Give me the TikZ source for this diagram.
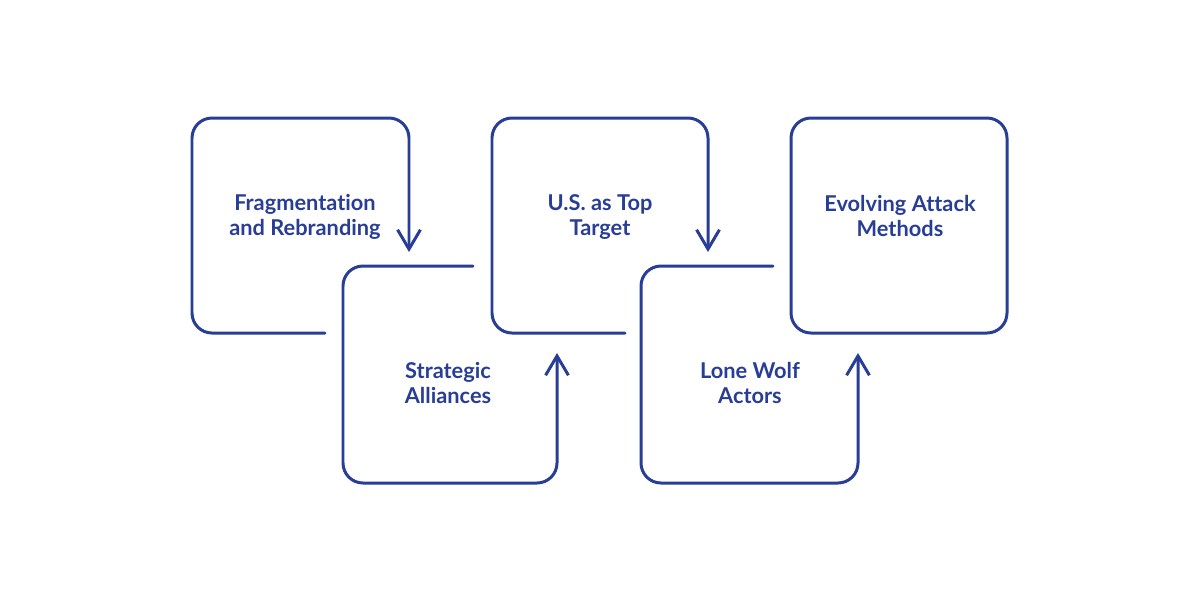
\documentclass[tikz,border=0pt]{standalone}
\usepackage{fontspec}
\setmainfont{Lato}[Ligatures={NoCommon}]
\usepackage{tikz}
\usetikzlibrary{arrows.meta}
\definecolor{inkblue}{RGB}{40,62,150}
\tikzstyle{frame} = [draw=inkblue, line width=1.7pt, rounded corners=0.4cm, line cap=round, line join=round]
\tikzstyle{arrow} = [-{Straight Barb[length=11pt,width=13pt,line width=1.7pt]}]
\tikzstyle{label} = [text=inkblue, font=\bfseries\fontsize{12.4}{14.2}\selectfont, align=center]

\begin{document}
\begin{tikzpicture}[x=0.02cm, y=-0.02cm]
	\useasboundingbox[fill=white] (0,0) rectangle (1200,600);

	% boxes
	\draw[frame, arrow] (325,333) -- (192,333) -- (192,118) -- (409,118) -- (409,252);
	\draw[frame, arrow] (473,266) -- (343,266) -- (343,483) -- (557,483) -- (557,353);
	\draw[frame, arrow] (625,333) -- (492,333) -- (492,118) -- (708,118) -- (708,252);
	\draw[frame, arrow] (773,266) -- (641,266) -- (641,483) -- (858,483) -- (858,353);
	\draw[frame] (791,118) rectangle (1007,333);

	% labels
	\node(fragmentation) [label] at (305,217) {Fragmentation\\and Rebranding};
	\node(alliances) [label] at (448,383) {Strategic\\Alliances};
	\node(ustarget) [label] at (600,217) {U.S. as Top\\Target};
	\node(lonewolf) [label] at (750,383) {Lone Wolf\\Actors};
	\node(attack) [label] at (900,216) {Evolving Attack\\Methods};
\end{tikzpicture}
\end{document}
